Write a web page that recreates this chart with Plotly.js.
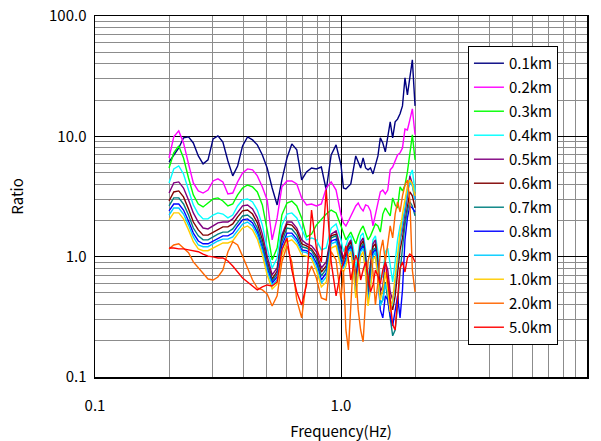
<!DOCTYPE html>
<html>
<head>
<meta charset="utf-8">
<script src="https://cdn.plot.ly/plotly-3.0.1.min.js"></script>
<style>html,body{margin:0;padding:0;background:#fff;}#chart{width:601px;height:441px;}</style>
</head>
<body>
<div id="chart"></div>
<script>
// Frequency (Hz)
const freq = [0.200,0.209,0.219,0.229,0.240,0.251,0.263,0.275,0.288,0.302,0.316,0.331,0.347,0.363,0.380,0.398,0.417,0.437,0.457,0.479,0.501,0.525,0.550,0.575,0.603,0.631,0.661,0.692,0.724,0.759,0.794,0.832,0.871,0.912,0.955,1.000,
1.023,1.047,1.072,1.096,1.122,1.148,1.175,1.202,1.230,1.259,1.288,1.318,1.349,1.380,1.413,1.445,1.479,1.514,1.549,1.585,1.622,1.660,1.698,1.738,1.778,1.820,1.862,1.905,1.950,2.000];

const seriesNames = ["0.1km","0.2km","0.3km","0.4km","0.5km","0.6km","0.7km","0.8km","0.9km","1.0km","2.0km","5.0km"];
const seriesColors = ["#000080","#ff00ff","#00ff00","#00ffff","#800080","#800000","#008080","#0000ff","#00ccff","#ffcc00","#ff6600","#ff0000"];

const r01 = [6.12,7.00,8.01,9.70,9.89,8.81,6.87,5.90,6.37,9.51,10.1,8.98,6.24,4.69,5.67,8.32,9.89,9.34,8.49,7.00,5.46,3.72,2.69,4.34,6.61,8.65,7.71,4.34,5.06,5.46,5.36,5.56,3.58,7.00,8.49,5.78,
3.72,3.65,3.87,4.02,5.26,6.87,6.12,5.46,6.61,5.46,5.26,5.46,4.87,5.78,6.87,9.70,8.81,7.42,10.3,13.2,9.70,13.2,13.9,15.4,17.9,30.6,22.1,32.4,43.2,17.9];
const r02 = [6.61,9.89,11.1,8.81,5.90,4.10,3.52,3.38,3.58,4.26,4.43,4.18,3.32,3.38,4.18,4.96,5.36,5.26,4.69,3.80,2.96,1.38,2.10,3.80,4.26,4.26,4.02,3.08,2.69,2.74,2.64,2.74,3.72,4.18,3.58,2.22,
1.91,1.80,1.98,2.18,2.44,2.64,2.79,2.54,2.40,2.69,2.64,2.40,1.80,2.26,2.74,3.45,3.58,3.32,3.58,5.26,5.56,6.24,7.00,7.28,8.01,11.5,11.3,13.7,16.9,10.3];
const r03 = [5.46,7.28,8.32,6.61,4.51,3.26,2.74,2.59,2.79,3.02,3.08,2.90,2.64,2.74,3.26,3.72,3.94,3.80,3.45,2.69,1.67,0.939,1.18,2.22,2.79,2.90,2.64,2.10,1.46,1.54,1.83,2.02,2.26,2.44,2.31,1.80,
1.60,1.38,1.49,1.60,1.43,1.28,1.49,1.67,1.80,1.60,1.38,1.49,1.67,1.87,1.80,1.60,2.26,2.54,2.35,2.18,3.08,2.69,2.54,3.80,3.52,3.94,5.06,6.87,10.3,6.37];
const r04 = [4.10,5.36,5.67,4.87,3.58,2.69,2.26,2.06,2.06,2.22,2.31,2.26,2.10,2.22,2.64,2.96,3.02,2.85,2.44,1.83,1.18,0.805,0.976,1.83,2.26,2.31,2.10,1.67,1.38,1.43,1.38,1.14,1.18,1.73,1.87,1.38,
1.10,1.23,1.43,1.49,1.18,0.775,1.10,1.49,1.57,1.14,0.665,0.904,1.38,1.49,1.10,0.640,0.691,1.10,1.18,0.805,0.616,0.904,1.38,1.80,2.02,2.35,3.20,4.69,5.26,3.45];
const r05 = [3.38,4.10,4.18,3.72,2.96,2.31,1.94,1.73,1.70,1.80,1.91,1.94,1.94,2.06,2.35,2.64,2.69,2.49,2.10,1.54,1.01,0.705,0.805,1.51,1.94,1.94,1.73,1.38,1.28,1.23,1.10,0.805,0.904,1.54,1.64,1.14,
0.976,1.10,1.28,1.38,1.03,0.665,0.976,1.33,1.43,1.01,0.571,0.837,1.28,1.38,0.904,0.509,0.571,0.904,0.775,0.509,0.437,0.571,0.904,1.38,1.67,2.26,3.20,4.69,4.02,2.96];
const r06 = [2.90,3.45,3.52,3.14,2.49,1.94,1.67,1.51,1.51,1.60,1.70,1.77,1.77,1.87,2.14,2.40,2.44,2.26,1.91,1.38,0.921,0.652,0.760,1.43,1.87,1.83,1.64,1.28,1.23,1.16,1.01,0.746,0.837,1.49,1.54,1.05,
0.939,1.05,1.23,1.33,0.976,0.616,0.904,1.25,1.35,0.939,0.529,0.775,1.21,1.28,0.837,0.472,0.509,0.746,0.616,0.437,0.361,0.472,0.746,1.14,1.43,1.94,2.69,3.45,3.20,2.54];
const r07 = [2.64,3.08,3.08,2.74,2.22,1.73,1.49,1.38,1.38,1.46,1.54,1.60,1.60,1.70,1.94,2.18,2.22,2.06,1.73,1.28,0.869,0.628,0.718,1.33,1.73,1.70,1.51,1.21,1.18,1.12,0.957,0.691,0.790,1.43,1.49,0.995,
0.869,0.976,1.18,1.25,0.904,0.549,0.837,1.18,1.28,0.869,0.472,0.691,1.14,1.18,0.746,0.405,0.437,0.616,0.437,0.287,0.220,0.246,0.389,0.746,1.23,1.87,2.44,2.85,2.64,2.18];
const r08 = [2.40,2.74,2.74,2.44,1.98,1.57,1.35,1.28,1.28,1.35,1.43,1.49,1.49,1.57,1.80,2.02,2.06,1.91,1.60,1.18,0.805,0.604,0.678,1.23,1.57,1.57,1.40,1.14,1.12,1.05,0.886,0.640,0.732,1.35,1.40,0.921,
0.837,0.939,1.14,1.21,0.853,0.509,0.805,1.14,1.23,0.805,0.437,0.640,1.08,1.14,0.691,0.361,0.310,0.472,0.437,0.322,0.266,0.361,0.472,0.310,0.529,1.38,2.10,2.64,2.54,2.35];
const r09 = [2.22,2.54,2.54,2.26,1.83,1.46,1.25,1.21,1.21,1.28,1.35,1.40,1.40,1.46,1.67,1.87,1.94,1.80,1.51,1.12,0.760,0.582,0.640,1.14,1.46,1.49,1.33,1.10,1.08,1.01,0.837,0.604,0.678,1.28,1.33,0.869,
0.805,0.904,1.10,1.16,0.821,0.490,0.775,1.10,1.18,0.775,0.420,0.593,1.01,1.10,0.665,0.389,0.437,0.593,0.509,0.361,0.405,0.616,0.939,1.38,1.87,2.64,3.45,4.18,3.87,2.96];
const r10 = [2.02,2.31,2.31,2.06,1.67,1.33,1.16,1.12,1.12,1.18,1.25,1.30,1.30,1.35,1.54,1.73,1.80,1.67,1.40,1.03,0.705,0.539,0.593,1.03,1.33,1.38,1.25,1.03,1.01,0.957,0.775,0.560,0.616,1.18,1.23,0.805,
0.746,0.837,1.01,1.10,0.775,0.454,0.718,1.01,1.10,0.718,0.389,0.529,0.939,1.01,0.640,0.437,0.529,0.746,0.529,0.347,0.437,0.691,1.10,1.60,2.26,3.08,3.87,4.34,4.02,3.20];
const r20 = [1.16,1.25,1.28,1.18,1.08,0.904,0.805,0.718,0.652,0.640,0.678,0.775,1.10,1.33,1.25,1.01,0.805,0.640,0.549,0.529,0.490,0.389,0.472,0.904,1.23,0.904,0.437,0.310,0.640,0.837,0.665,0.454,0.437,1.10,0.939,0.437,
0.775,0.246,0.168,0.437,0.939,0.705,0.361,0.246,0.196,0.437,0.904,1.14,0.746,0.397,0.616,1.10,1.38,0.904,1.28,1.80,1.43,2.26,2.85,2.35,3.20,3.94,4.34,2.96,0.775,0.509];
const r50 = [1.18,1.18,1.16,1.16,1.14,1.12,1.10,1.05,1.01,0.995,0.976,0.976,0.921,0.837,0.746,0.665,0.616,0.571,0.529,0.560,0.582,0.571,0.616,1.14,1.43,0.775,0.509,0.397,0.582,2.44,1.18,0.904,3.58,0.904,0.472,0.775,
0.904,1.23,0.939,0.640,0.805,1.03,0.904,0.640,0.775,0.904,0.691,0.509,0.582,0.775,0.691,0.593,0.775,0.904,0.640,0.437,0.271,0.246,0.437,0.805,0.904,0.746,0.976,1.05,1.01,0.904];

const seriesValues = [r01,r02,r03,r04,r05,r06,r07,r08,r09,r10,r20,r50];

const xTickVals = [0.1,1,10];
const xTickText = ["0.1","1.0","10.0"];
const yTickVals = [0.1,1,10,100];
const yTickText = ["0.1","1.0","10.0","100.0"];
const xMinor = [0.2,0.3,0.4,0.5,0.6,0.7,0.8,0.9,2,3,4,5,6,7,8,9];
const yMinor = [0.2,0.3,0.4,0.5,0.6,0.7,0.8,0.9,2,3,4,5,6,7,8,9,20,30,40,50,60,70,80,90];

const FONT = '"Noto Sans CJK JP", "DejaVu Sans", sans-serif';

const traces = seriesNames.map((n,i) => ({
  x: freq, y: seriesValues[i], name: n, type: 'scatter', mode: 'lines',
  legendgroup: 'g'+i,
  line: {color: seriesColors[i], width: 1.4}
}));

const axisCommon = {
  type: 'log', showline: true, mirror: true, linecolor: '#000', linewidth: 1.5,
  showgrid: true, gridcolor: '#000', gridwidth: 1, zeroline: false,
  ticks: 'inside', ticklen: 5, tickcolor: '#000',
  tickfont: {family: FONT, size: 15, color: '#000'},
  tickmode: 'array'
};

const layout = {
  width: 601, height: 441,
  margin: {l: 95, r: 14, t: 16, b: 64},
  paper_bgcolor: '#fff', plot_bgcolor: '#fff',
  font: {family: FONT, color: '#000'},
  showlegend: true,
  xaxis: Object.assign({}, axisCommon, {
    range: [-1, 1], tickvals: xTickVals, ticktext: xTickText,
    ticklabelstandoff: 14,
    minor: {tickmode: 'array', tickvals: xMinor, showgrid: true, gridcolor: '#8c8c8c', gridwidth: 1, ticks: ''},
    title: {text: 'Frequency(Hz)', font: {family: FONT, size: 15, color: '#000'}, standoff: 15}
  }),
  yaxis: Object.assign({}, axisCommon, {
    range: [-1, 2], tickvals: yTickVals, ticktext: yTickText,
    ticklabelstandoff: 4,
    minor: {tickmode: 'array', tickvals: yMinor, showgrid: true, gridcolor: '#8c8c8c', gridwidth: 1, ticks: ''},
    title: {text: 'Ratio', font: {family: FONT, size: 15, color: '#000'}, standoff: 22}
  }),
  legend: {
    x: 0.758, y: 0.917, xanchor: 'left', yanchor: 'top',
    bgcolor: '#fff', bordercolor: '#000', borderwidth: 1,
    font: {family: FONT, size: 15, color: '#000'},
    traceorder: 'grouped', tracegroupgap: 1.5
  }
};

Plotly.newPlot('chart', traces, layout, {staticPlot: true, displayModeBar: false});
</script>
</body>
</html>
